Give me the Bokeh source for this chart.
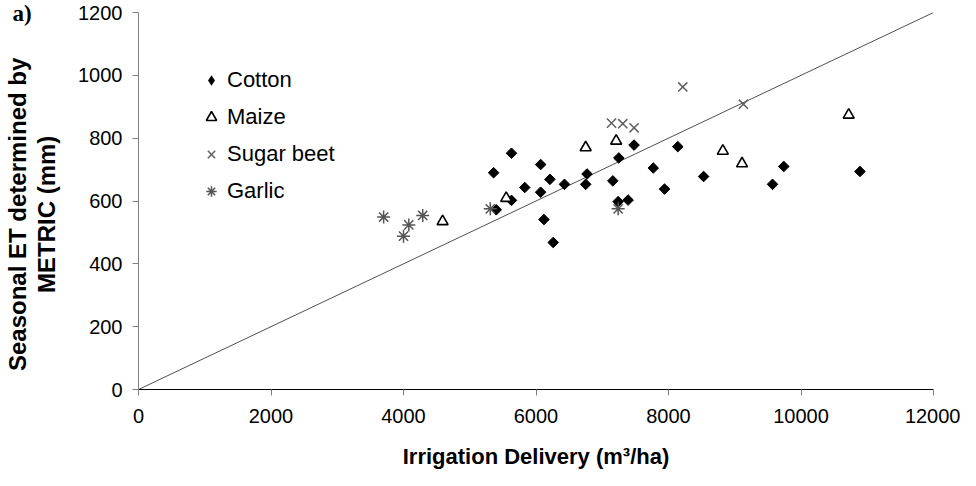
import math
from bokeh.plotting import figure
from bokeh.models import (Range1d, FixedTicker, Legend, LegendItem, LinearAxis, Title,
                          ColumnDataSource, CDSView, IndexFilter)
from bokeh.embed import file_html
from bokeh.resources import INLINE

# ---- data ----
cotton_x = [5360, 5630, 6070, 5830, 6210, 6430, 6070, 5630, 5400, 6120, 6260, 6770, 6750,
            7250, 7160, 7240, 7390, 7480, 7770, 8140, 7940, 8530, 9570, 9740, 10890]
cotton_y = [690, 752, 716, 643, 669, 653, 628, 602, 572, 541, 468, 686, 653,
            737, 664, 598, 603, 778, 705, 773, 638, 678, 653, 710, 694]

maize_x = [4590, 5550, 6750, 7210, 8820, 9110, 10720]
maize_y = [535, 609, 770, 791, 759, 719, 874]

beet_x = [7140, 7310, 7480, 8215, 9130]
beet_y = [848, 846, 833, 963, 908]

garlic_x = [3700, 4000, 4080, 4290, 5310, 7240]
garlic_y = [549, 488, 524, 554, 575, 575]

line_x = [0, 12000]
line_y = [0, 1200]

x_ticks = [0, 2000, 4000, 6000, 8000, 10000, 12000]
y_ticks = [0, 200, 400, 600, 800, 1000, 1200]

series_names = ["Cotton", "Maize", "Sugar beet", "Garlic"]
y_title_lines = ["Seasonal ET determined by", "METRIC (mm)"]
x_title = "Irrigation Delivery (m³/ha)"
panel_tag = "a)"

FONT = "Liberation Sans"
PAD = "\u00a0" * 4   # trailing no-break spaces: nudge the y title slightly downward

p = figure(width=960, height=476, output_backend="svg", toolbar_location=None,
           x_range=Range1d(0, 12000), y_range=Range1d(0, 1200),
           min_border_left=135, min_border_right=27, min_border_top=12,
           min_border_bottom=87, title=None)
p.outline_line_color = None
p.grid.visible = False
p.background_fill_color = "white"
p.border_fill_color = "white"

# 1:1 line
p.line(line_x, line_y, line_color="#505050", line_width=1)

cot_src = ColumnDataSource(data=dict(x=cotton_x, y=cotton_y))
# diamond glyph used for the legend entry (single point hidden under the first marker)
r_cot_leg = p.scatter("x", "y", source=cot_src, view=CDSView(filter=IndexFilter([0])),
                      marker="diamond", size=9, fill_color="black", line_color=None)
r_cot = p.scatter("x", "y", source=cot_src, marker="square", angle=math.pi / 4, size=7.5,
                  fill_color="black", line_color="black", line_width=1)
r_mai = p.scatter(maize_x, maize_y, marker="triangle", size=11,
                  fill_color="white", line_color="black", line_width=1.6)
r_bee = p.scatter(beet_x, beet_y, marker="x", size=13,
                  line_color="#606060", line_width=1.5)
r_gar = p.scatter(garlic_x, garlic_y, marker="asterisk", size=13,
                  line_color="#555555", line_width=1.5)

legend = Legend(items=[LegendItem(label=series_names[0], renderers=[r_cot_leg]),
                       LegendItem(label=series_names[1], renderers=[r_mai]),
                       LegendItem(label=series_names[2], renderers=[r_bee]),
                       LegendItem(label=series_names[3], renderers=[r_gar])],
                location=(60, 185), orientation="vertical",
                glyph_width=26, glyph_height=26, label_height=26, spacing=11,
                label_standoff=3, padding=0, margin=0,
                border_line_color=None, background_fill_alpha=0,
                label_text_font=FONT, label_text_font_size="22px",
                label_text_color="black")
p.add_layout(legend, "center")

# axes
for ax in (p.xaxis[0], p.yaxis[0]):
    ax.major_tick_out = 6
    ax.major_tick_in = 0
    ax.minor_tick_line_color = None
    ax.major_tick_line_color = "#808080"
    ax.major_label_text_font = FONT
    ax.major_label_text_font_size = "20px"
    ax.major_label_text_color = "black"
    ax.axis_label_text_font = FONT
    ax.axis_label_text_font_style = "bold"
    ax.axis_label_text_color = "black"

p.xaxis.ticker = FixedTicker(ticks=x_ticks)
p.yaxis.ticker = FixedTicker(ticks=y_ticks)
p.xaxis.axis_line_color = "black"
p.yaxis.axis_line_color = "#808080"
p.xaxis.major_label_standoff = 13
p.yaxis.major_label_standoff = 10
p.xaxis.axis_label = x_title
p.xaxis.axis_label_text_font_size = "22px"
p.xaxis.axis_label_standoff = 18

# y title: second line on the main axis, first line on an outer label-only axis
p.yaxis.axis_label = y_title_lines[1] + PAD
p.yaxis.axis_label_text_font_size = "24px"
p.yaxis.axis_label_standoff = 15

outer = LinearAxis(ticker=FixedTicker(ticks=[]), axis_line_color=None,
                   major_tick_line_color=None, minor_tick_line_color=None,
                   major_label_text_font_size="0px",
                   axis_label=y_title_lines[0] + PAD, axis_label_standoff=0,
                   axis_label_text_font=FONT, axis_label_text_font_style="bold",
                   axis_label_text_font_size="24px", axis_label_text_color="black")
p.add_layout(outer, "left")

# panel tag "a)" in the top-left corner
tag = Title(text=panel_tag, align="left", vertical_align="bottom", offset=-126,
            standoff=-27, text_font="Liberation Serif", text_font_style="bold",
            text_font_size="23px", text_color="black")
p.add_layout(tag, "above")

open("out.html", "w").write(file_html(p, INLINE))
